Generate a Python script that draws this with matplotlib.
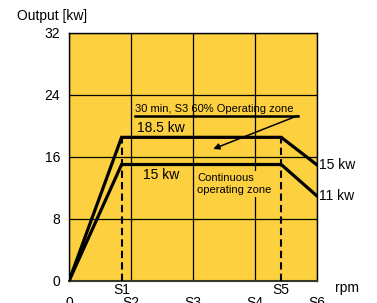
import matplotlib
matplotlib.use("Agg")
import matplotlib.pyplot as plt

plt.rcParams['font.family'] = ['Liberation Sans', 'DejaVu Sans']

# ---- data ----
speed_pos = {"0": 0.0, "S1": 0.85, "S2": 1.0, "S3": 2.0, "S4": 3.0, "S5": 3.43, "S6": 4.0}
lower_ticks = ["0", "S2", "S3", "S4", "S6"]
upper_ticks = ["S1", "S5"]
y_ticks = [0, 8, 16, 24, 32]

curve_x_labels = ["0", "S1", "S5", "S6"]
s3_power = [0, 18.5, 18.5, 15]       # 30 min, S3 60%
cont_power = [0, 15, 15, 11]          # continuous

YELLOW = '#FCD03F'

fig = plt.figure(figsize=(3.77, 3.03), dpi=100)
ax = fig.add_axes([69/377, 1-281/303, (316.5-69)/377, (281-32.5)/303])
ax.set_facecolor(YELLOW)
ax.set_xlim(0, 4)
ax.set_ylim(0, 32)

ax.set_yticks(y_ticks)
ax.set_yticklabels([str(v) for v in y_ticks], fontsize=10)
ax.set_xticks([speed_pos[k] for k in lower_ticks])
ax.set_xticklabels(lower_ticks, fontsize=10)
ax.set_xticks([speed_pos[k] for k in upper_ticks], minor=True)
ax.set_xticklabels(upper_ticks, minor=True, fontsize=10)
ax.tick_params(axis='x', which='major', length=0, pad=10.5)
ax.tick_params(axis='x', which='minor', length=0, pad=1.5)
ax.tick_params(axis='y', length=0, pad=6.5)
ax.grid(which='major', color='black', lw=0.9)
ax.set_axisbelow(True)
for s in ax.spines.values():
    s.set_color('black')
    s.set_linewidth(1.0)
ax.spines['bottom'].set_color('#3a3628')
ax.spines['bottom'].set_linewidth(1.5)

cx = [speed_pos[k] for k in curve_x_labels]
ax.plot(cx, s3_power, color='black', lw=2.3, solid_joinstyle='miter', zorder=4)
ax.plot(cx, cont_power, color='black', lw=2.3, solid_joinstyle='miter', zorder=4)
for k in ["S1", "S5"]:
    ax.plot([speed_pos[k], speed_pos[k]], [0, s3_power[1]], color='black', lw=1.5,
            dashes=(3.5, 2), zorder=3)

# annotations
ax.text(1.07, 21.75, "30 min, S3 60% Operating zone", fontsize=8, va='baseline', ha='left', zorder=5)
ax.plot([1.07, 3.70], [21.3, 21.3], color='black', lw=1.8, zorder=5)
ax.annotate("", xy=(2.33, 17.0), xytext=(3.70, 21.3),
            arrowprops=dict(arrowstyle='-|>', lw=1.1, color='black', mutation_scale=9,
                            shrinkA=0, shrinkB=0), zorder=5)
ax.text(1.10, 19.7, "18.5 kw", fontsize=10, va='center', ha='left', zorder=5)
ax.text(1.20, 13.65, "15 kw", fontsize=10, va='center', ha='left', zorder=5)
ax.text(2.07, 12.5, "Continuous\noperating zone", fontsize=8, va='center', ha='left',
        linespacing=1.3, zorder=5,
        bbox=dict(facecolor=YELLOW, edgecolor='none', pad=1.5))

ax.annotate(f"{s3_power[-1]:g} kw", xy=(4, s3_power[-1]), xytext=(1.5, 0),
            textcoords='offset points', fontsize=10, va='center', ha='left',
            annotation_clip=False)
ax.annotate(f"{cont_power[-1]:g} kw", xy=(4, cont_power[-1]), xytext=(1.5, 0),
            textcoords='offset points', fontsize=10, va='center', ha='left',
            annotation_clip=False)

fig.text(17/377, 1-16/303, "Output [kw]", fontsize=10, va='center', ha='left')
fig.text(335/377, 1-292/303, "rpm", fontsize=10, va='baseline', ha='left')

fig.savefig("out.png", dpi=100)
